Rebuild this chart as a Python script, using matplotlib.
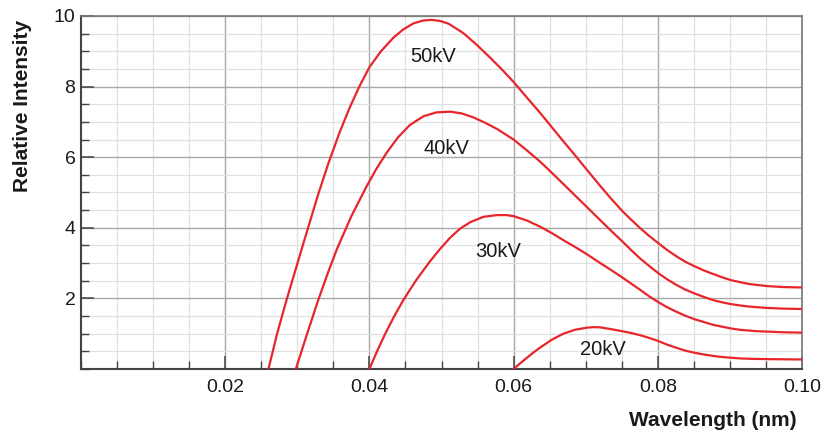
import matplotlib
matplotlib.use("Agg")
import matplotlib.pyplot as plt
from matplotlib.ticker import MultipleLocator, FixedLocator, FixedFormatter

plt.rcParams['font.family'] = ['Liberation Sans', 'DejaVu Sans']

# ---- data ----
wl_50 = [0.0260, 0.0272, 0.0285, 0.0307, 0.0329, 0.0343, 0.0359, 0.0373, 0.0386, 0.0400, 0.0416,
         0.0433, 0.0447, 0.0461, 0.0474, 0.0486, 0.0498, 0.0510, 0.0530, 0.0548, 0.0567,
         0.0584, 0.0600, 0.0618, 0.0637, 0.0653, 0.0669, 0.0685, 0.0701, 0.0720, 0.0735,
         0.0751, 0.0763, 0.0775, 0.0788, 0.0801, 0.0813, 0.0826, 0.0838, 0.0851, 0.0864,
         0.0877, 0.0889, 0.0901, 0.0914, 0.0926, 0.0938, 0.0951, 0.0975, 0.1000]
kv_50 = [0.00, 1.00, 1.95, 3.46, 4.95, 5.82, 6.72, 7.42, 8.00, 8.55, 9.00,
         9.38, 9.62, 9.79, 9.87, 9.89, 9.86, 9.78, 9.52, 9.20, 8.83,
         8.48, 8.13, 7.70, 7.25, 6.85, 6.45, 6.06, 5.66, 5.19, 4.83,
         4.47, 4.23, 4.00, 3.77, 3.56, 3.37, 3.19, 3.04, 2.91, 2.79,
         2.69, 2.60, 2.52, 2.46, 2.41, 2.38, 2.35, 2.32, 2.31]

wl_40 = [0.0298, 0.0314, 0.0329, 0.0342, 0.0355, 0.0375, 0.0396, 0.0410, 0.0424, 0.0440,
         0.0456, 0.0475, 0.0493, 0.0512, 0.0528, 0.0544, 0.0560, 0.0577, 0.0600, 0.0618,
         0.0637, 0.0655, 0.0674, 0.0688, 0.0701, 0.0720, 0.0735, 0.0751, 0.0763, 0.0775,
         0.0788, 0.0801, 0.0813, 0.0826, 0.0838, 0.0851, 0.0864, 0.0877, 0.0889, 0.0901,
         0.0914, 0.0926, 0.0938, 0.0951, 0.0975, 0.1000]
kv_40 = [0.00, 1.02, 1.95, 2.70, 3.40, 4.33, 5.17, 5.68, 6.13, 6.57,
         6.91, 7.16, 7.27, 7.29, 7.24, 7.13, 6.98, 6.80, 6.50, 6.20,
         5.87, 5.52, 5.14, 4.86, 4.60, 4.22, 3.92, 3.61, 3.37, 3.14,
         2.92, 2.71, 2.54, 2.38, 2.25, 2.14, 2.04, 1.95, 1.89, 1.84,
         1.80, 1.77, 1.75, 1.73, 1.71, 1.70]

wl_30 = [0.0400, 0.0411, 0.0422, 0.0434, 0.0447, 0.0465, 0.0484, 0.0498, 0.0512, 0.0526,
         0.0540, 0.0558, 0.0577, 0.0590, 0.0600, 0.0618, 0.0637, 0.0653, 0.0669, 0.0685,
         0.0701, 0.0718, 0.0734, 0.0751, 0.0763, 0.0775, 0.0788, 0.0801, 0.0813, 0.0826,
         0.0838, 0.0851, 0.0864, 0.0877, 0.0889, 0.0901, 0.0914, 0.0926, 0.0938, 0.0951,
         0.0975, 0.1000]
kv_30 = [0.00, 0.52, 1.00, 1.48, 1.95, 2.52, 3.05, 3.40, 3.72, 3.98,
         4.16, 4.31, 4.36, 4.36, 4.33, 4.21, 4.03, 3.85, 3.65, 3.46,
         3.26, 3.03, 2.82, 2.59, 2.42, 2.25, 2.06, 1.89, 1.75, 1.62,
         1.51, 1.41, 1.33, 1.25, 1.20, 1.15, 1.11, 1.09, 1.07, 1.06,
         1.04, 1.03]

wl_20 = [0.0600, 0.0609, 0.0618, 0.0627, 0.0637, 0.0653, 0.0669, 0.0685, 0.0701, 0.0711,
         0.0720, 0.0735, 0.0751, 0.0763, 0.0775, 0.0788, 0.0801, 0.0813, 0.0826, 0.0838,
         0.0851, 0.0864, 0.0877, 0.0889, 0.0901, 0.0914, 0.0926, 0.0951, 0.0975, 0.1000]
kv_20 = [0.00, 0.16, 0.31, 0.46, 0.61, 0.83, 1.00, 1.11, 1.17, 1.185,
         1.18, 1.13, 1.07, 1.02, 0.96, 0.88, 0.79, 0.69, 0.60, 0.52,
         0.46, 0.41, 0.37, 0.34, 0.32, 0.30, 0.29, 0.28, 0.275, 0.27]

series = [(wl_50, kv_50), (wl_40, kv_40), (wl_30, kv_30), (wl_20, kv_20)]
labels = ["50kV", "40kV", "30kV", "20kV"]
label_pos = [(0.0488, 8.84), (0.0507, 6.25), (0.0579, 3.32), (0.0724, 0.56)]

x_ticks = [0.02, 0.04, 0.06, 0.08, 0.10]
x_ticklabels = ["0.02", "0.04", "0.06", "0.08", "0.10"]
y_ticks = [2, 4, 6, 8, 10]
y_ticklabels = ["2", "4", "6", "8", "10"]

# ---- figure ----
fig = plt.figure(figsize=(8.25, 4.37), dpi=100)
ax = fig.add_axes([81/825, 1-369/437, (802-81)/825, (369-16)/437])

red = "#e8252b"
for (wl, kv) in series:
    ax.plot(wl, kv, color=red, lw=1.6, solid_joinstyle='round', zorder=3)

for lab, (lx, ly) in zip(labels, label_pos):
    ax.text(lx, ly, lab, fontsize=14.5, ha='center', va='center', color='#1a1a1a', zorder=4)

ax.set_xlim(0, 0.10)
ax.set_ylim(0, 10)
ax.xaxis.set_major_locator(FixedLocator(x_ticks))
ax.xaxis.set_major_formatter(FixedFormatter(x_ticklabels))
ax.yaxis.set_major_locator(FixedLocator(y_ticks))
ax.yaxis.set_major_formatter(FixedFormatter(y_ticklabels))
ax.xaxis.set_minor_locator(MultipleLocator(0.005))
ax.yaxis.set_minor_locator(MultipleLocator(0.5))

ax.grid(which='major', color='#a8a8a8', lw=1.0, zorder=1)
ax.grid(which='minor', color='#e0e0e0', lw=0.9, zorder=0)
ax.set_axisbelow(True)

ax.tick_params(which='major', direction='in', length=9.3, width=1.1, color='#444444',
               labelsize=14, labelcolor='#1a1a1a', pad=4)
ax.tick_params(which='minor', direction='in', length=5.5, width=1.0, color='#444444')
ax.tick_params(axis='x', pad=7)
ax.tick_params(top=False, right=False, which='both')

for s in ['left', 'bottom']:
    ax.spines[s].set_color('#444444')
    ax.spines[s].set_linewidth(1.5)
for s in ['top', 'right']:
    ax.spines[s].set_color('#777777')
    ax.spines[s].set_linewidth(1.2)

fig.text(23/825, 1-106/437, "Relative Intensity", rotation=90, fontsize=15,
         fontweight='bold', ha='center', va='center', color='#1a1a1a')
fig.text(797/825, 1-421/437, "Wavelength (nm)", fontsize=15, fontweight='bold',
         ha='right', va='center', color='#1a1a1a')

fig.savefig("out.png", dpi=100)
